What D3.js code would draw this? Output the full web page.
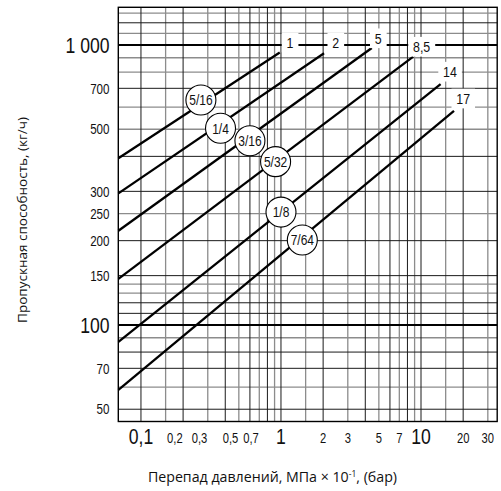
<!DOCTYPE html>
<html><head><meta charset="utf-8">
<script src="https://cdn.jsdelivr.net/npm/d3@7"></script>
<style>body{margin:0;background:#fff}svg{display:block}</style>
</head><body><svg id="c" width="501" height="491"></svg>
<script>
// ---- data ----
const seriesLabels = ["1", "2", "5", "8,5", "14", "17"];
const orificeLabels = ["5/16", "1/4", "3/16", "5/32", "1/8", "7/64"];
const startDp   = [0.069, 0.069, 0.069, 0.069, 0.069, 0.069];
const startFlow = [394, 295, 217, 146, 87, 58.6];
const endDp     = [0.98, 2.03, 4.45, 8.8, 13.8, 17.2];
const endFlow   = [940, 934, 975, 908, 725, 581];
const circleDp   = [0.268, 0.37, 0.60, 0.915, 1.0, 1.42];
const circleFlow = [636, 504, 455, 383, 253, 201];
const labelDp   = [1.16, 2.46, 4.95, 10.1, 16.1, 20.0];
const labelFlow = [1021, 1022, 1057, 986, 803, 644];

const xGridDark  = [0.1, 0.2, 0.4, 0.6, 0.8, 1, 2, 4, 6, 8, 10, 20];
const xGridLight = [0.15, 0.3, 0.5, 0.7, 0.9, 1.5, 3, 5, 7, 9, 15, 30];
const yGridDark  = [50, 70, 80, 110, 120, 150, 200, 300, 400, 700, 1200];
const yGridLight = [60, 90, 130, 140, 250, 500, 600, 800, 900, 1100, 1300];
const yGridBold  = [100, 1000];

const xTicksMajor = [0.1, 1, 10];
const xTicksMajorText = ["0,1", "1", "10"];
const xTicksMinor = [0.2, 0.3, 0.5, 0.7, 2, 3, 5, 7, 20, 30];
const xTicksMinorText = ["0,2", "0,3", "0,5", "0,7", "2", "3", "5", "7", "20", "30"];
const yTicksMajor = [100, 1000];
const yTicksMajorText = ["100", "1 000"];
const yTicksMinor = [50, 70, 150, 200, 250, 300, 500, 700];
const yTicksMinorText = ["50", "70", "150", "200", "250", "300", "500", "700"];

const xTitle = "Перепад давлений, МПа × 10";
const xTitleSup = "-1";
const xTitleEnd = ", (бар)";
const yTitle = "Пропускная способность, (кг/ч)";

// ---- drawing ----
const svg = d3.select("#c");
const L = 118.3, R = 497.2, T = 7.3, B = 421.5;
const x = d3.scaleLog().domain([0.0689, 35]).range([L, R]);
const y = d3.scaleLog().domain([45.2, 1363]).range([B, T]);
const FONT = "'Liberation Sans',Arial,sans-serif";
const SX = 0.8; // condensed look

function ctext(sel, px, py, size, anchor) {
  sel.attr("transform", (d, i) => `translate(${px(d, i)},${py(d, i)}) scale(${SX},1)`);
  return sel.append("text").attr("text-anchor", anchor)
    .attr("font-family", FONT).attr("font-size", size).attr("fill", "#111");
}

const g = svg.append("g");
// grid
g.selectAll(".vl").data(xGridLight).join("line")
  .attr("x1", d => x(d)).attr("x2", d => x(d)).attr("y1", T).attr("y2", B)
  .attr("stroke", "#8c8c8c").attr("stroke-width", 1.3);
g.selectAll(".hl").data(yGridLight).join("line")
  .attr("y1", d => y(d)).attr("y2", d => y(d)).attr("x1", L).attr("x2", R)
  .attr("stroke", "#8c8c8c").attr("stroke-width", 1.3);
g.selectAll(".vd").data(xGridDark).join("line")
  .attr("x1", d => x(d)).attr("x2", d => x(d)).attr("y1", T).attr("y2", B)
  .attr("stroke", "#1a1a1a").attr("stroke-width", 1);
g.selectAll(".hd").data(yGridDark).join("line")
  .attr("y1", d => y(d)).attr("y2", d => y(d)).attr("x1", L).attr("x2", R)
  .attr("stroke", "#1a1a1a").attr("stroke-width", 1);
g.selectAll(".hb").data(yGridBold).join("line")
  .attr("y1", d => y(d)).attr("y2", d => y(d)).attr("x1", L).attr("x2", R)
  .attr("stroke", "#000").attr("stroke-width", 2);

// series lines
const idx = d3.range(seriesLabels.length);
const line = d3.line().x(d => x(d[0])).y(d => y(d[1]));
g.selectAll(".sl").data(idx).join("path")
  .attr("d", i => line([[startDp[i], startFlow[i]], [endDp[i], endFlow[i]]]))
  .attr("fill", "none").attr("stroke", "#000").attr("stroke-width", 2.3);

// series labels with white background
const lab = g.selectAll(".lab").data(idx).join("g");
ctext(lab, i => x(labelDp[i]), i => y(labelFlow[i]), 15.5, "middle")
  .attr("dy", "0.36em").text(i => seriesLabels[i]);
lab.each(function() {
  const t = d3.select(this).select("text");
  const bb = t.node().getBBox();
  d3.select(this).insert("rect", "text")
    .attr("x", bb.x - 6).attr("y", bb.y - 1)
    .attr("width", bb.width + 12).attr("height", bb.height + 2)
    .attr("fill", "#fff");
});

// orifice circles
const oc = g.selectAll(".oc").data(idx).join("g")
  .attr("transform", i => `translate(${x(circleDp[i])},${y(circleFlow[i])})`);
oc.append("circle").attr("r", 15).attr("fill", "#fff").attr("stroke", "#000").attr("stroke-width", 1.1);
oc.append("text").attr("text-anchor", "middle").attr("dy", "0.36em")
  .attr("transform", `scale(${SX},1)`)
  .attr("font-family", FONT).attr("font-size", 15).attr("fill", "#111")
  .text(i => orificeLabels[i]);

// frame
g.append("rect").attr("x", L).attr("y", T).attr("width", R - L).attr("height", B - T)
  .attr("fill", "none").attr("stroke", "#000").attr("stroke-width", 1.4);

// x tick labels
ctext(g.selectAll(".xtM").data(xTicksMajor).join("g"), d => x(d), () => 443.5, 22, "middle")
  .text((d, i) => xTicksMajorText[i]);
ctext(g.selectAll(".xtm").data(xTicksMinor).join("g"), d => d < 1 ? x(d) - 0.5 : x(d), () => 443, 14,
      null).attr("text-anchor", d => d < 1 ? "end" : "middle")
  .text((d, i) => xTicksMinorText[i]);

// y tick labels
ctext(g.selectAll(".ytM").data(yTicksMajor).join("g"), () => 109.5, d => y(d), 22, "end")
  .attr("dy", "0.36em").text((d, i) => yTicksMajorText[i]);
ctext(g.selectAll(".ytm").data(yTicksMinor).join("g"), () => 109.5, d => y(d), 14.5, "end")
  .attr("dy", "0.36em").text((d, i) => yTicksMinorText[i]);

// axis titles
const xt = svg.append("text").attr("x", 272.5).attr("y", 482).attr("text-anchor", "middle")
  .attr("font-family", "'Open Sans',sans-serif").attr("font-size", 14.2).attr("fill", "#111");
xt.append("tspan").text(xTitle);
xt.append("tspan").attr("dy", -5).attr("font-size", 8.5).text(xTitleSup);
xt.append("tspan").attr("dy", 5).text(xTitleEnd);

svg.append("text").attr("transform", "translate(27,220) rotate(-90)")
  .attr("text-anchor", "middle")
  .attr("font-family", "'Open Sans',sans-serif").attr("font-size", 13.5).attr("fill", "#111")
  .text(yTitle);
</script></body></html>
